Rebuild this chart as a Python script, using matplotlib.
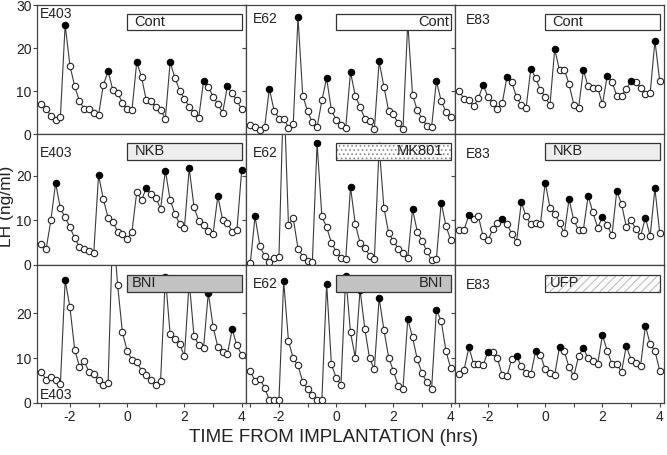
import numpy as np
import matplotlib
matplotlib.use("Agg")
import matplotlib.pyplot as plt
from matplotlib.patches import Rectangle
from matplotlib.transforms import blended_transform_factory

plt.rcParams["font.family"] = ["Liberation Sans", "DejaVu Sans"]
plt.rcParams["hatch.linewidth"] = 0.7

# 10-min blood samples, -3 h to +4 h around implantation
TIME = np.arange(43) / 6.0 - 3.0

# LH (ng/ml). Peaks (filled dots) given as sample indices.
E403_CONT = [7.0, 5.9, 4.2, 3.3, 4.0, 25.4, 15.9, 11.1, 7.6, 5.9, 5.9, 4.8, 4.4, 11.4, 14.6,
             10.2, 9.5, 7.3, 5.7, 5.5, 16.7, 13.3, 7.8, 7.6, 6.3, 5.5, 3.6, 16.7, 13.1, 10.1,
             8.2, 6.3, 4.9, 3.8, 12.3, 11.0, 8.7, 7.0, 4.9, 11.1, 9.5, 7.8, 5.7]
E403_CONT_PK = [5, 14, 20, 27, 34, 39]

E62_CONT = [2.1, 1.7, 1.0, 1.6, 10.5, 5.4, 3.6, 3.6, 1.5, 2.3, 27.1, 8.9, 5.3, 2.7, 1.6,
            7.8, 13.0, 5.5, 3.3, 2.1, 1.5, 14.4, 8.9, 6.3, 3.6, 3.1, 1.1, 16.9, 11.0, 5.4,
            4.6, 2.5, 1.1, 26.0, 9.1, 5.5, 3.5, 1.9, 1.7, 12.3, 7.7, 5.2, 3.9]
E62_CONT_PK = [4, 10, 16, 21, 27, 33, 39]

E83_CONT = [9.9, 8.2, 8.0, 6.4, 8.3, 11.4, 8.7, 7.3, 5.9, 7.2, 13.3, 12.0, 8.6, 6.7, 6.1,
            15.2, 13.0, 10.2, 8.6, 6.7, 19.8, 14.8, 15.0, 11.6, 6.8, 6.1, 14.8, 11.1, 10.7,
            10.8, 6.9, 13.5, 12.1, 8.9, 8.9, 10.5, 12.3, 12.0, 10.8, 9.3, 9.5, 21.7, 12.3]
E83_CONT_PK = [5, 10, 15, 20, 26, 31, 36, 41]

E403_NKB = [4.7, 3.5, 10.0, 18.4, 12.7, 10.7, 8.5, 6.0, 4.1, 3.7, 3.1, 2.8, 20.2, 14.8, 10.6,
            9.7, 7.5, 6.9, 5.8, 7.5, 16.3, 14.6, 17.2, 15.9, 15.1, 12.6, 21.2, 14.6, 11.5,
            9.2, 8.4, 21.7, 13.1, 9.9, 9.0, 7.7, 7.0, 15.5, 10.1, 9.4, 7.5, 7.9, 21.3]
E403_NKB_PK = [3, 12, 22, 26, 31, 37, 42]

E62_MK801 = [0.4, 10.9, 4.3, 2.0, 0.7, 1.5, 1.7, 40.0, 9.0, 10.5, 3.7, 1.9, 1.0, 0.6, 27.3,
             10.9, 8.5, 5.0, 3.0, 1.6, 1.3, 17.5, 9.2, 5.0, 3.9, 2.1, 1.3, 26.7, 12.9, 7.1,
             5.4, 3.7, 2.8, 1.5, 12.5, 7.5, 5.4, 3.1, 1.1, 1.3, 14.0, 8.8, 5.6]
E62_MK801_PK = [1, 7, 14, 21, 27, 34, 40]

E83_NKB = [7.9, 7.9, 11.2, 10.3, 10.9, 6.4, 5.5, 8.0, 9.4, 10.3, 9.2, 7.0, 5.2, 14.1, 10.9,
           9.1, 9.4, 9.1, 18.5, 12.9, 11.5, 9.5, 7.1, 14.8, 10.0, 7.9, 7.9, 15.5, 11.8, 8.4,
           10.7, 8.9, 6.7, 16.6, 13.7, 8.6, 10.1, 8.0, 6.5, 10.6, 6.5, 17.2, 7.1]
E83_NKB_PK = [2, 9, 13, 18, 23, 27, 30, 33, 39, 41]

E403_BNI = [6.9, 5.2, 5.7, 5.1, 4.3, 27.3, 21.3, 11.9, 8.1, 9.3, 6.9, 6.4, 5.2, 4.0, 4.5,
            40.0, 26.2, 15.7, 11.6, 9.6, 9.2, 7.2, 6.2, 5.2, 4.0, 4.9, 28.1, 15.3, 14.3,
            13.1, 10.4, 27.1, 14.9, 12.9, 12.2, 24.5, 17.0, 12.4, 11.3, 10.9, 16.4, 12.8, 10.7]
E403_BNI_PK = [5, 15, 26, 31, 35, 40]

E62_BNI = [7.1, 4.9, 5.4, 3.4, 0.6, 0.6, 0.6, 27.1, 13.8, 9.9, 8.4, 4.6, 3.1, 1.7, 0.7,
           0.7, 26.5, 8.6, 5.6, 4.0, 28.2, 15.7, 10.1, 25.2, 16.5, 9.9, 7.5, 23.4, 16.3,
           10.1, 7.1, 3.8, 3.2, 18.7, 14.6, 9.7, 6.6, 4.6, 3.2, 20.7, 18.3, 11.6, 7.7]
E62_BNI_PK = [7, 16, 20, 23, 27, 33, 39]

E83_UFP = [6.4, 7.3, 12.4, 8.7, 8.7, 8.4, 11.4, 11.4, 9.9, 6.2, 6.0, 9.8, 10.4, 8.2, 6.6,
           6.4, 11.6, 10.7, 7.5, 6.7, 6.3, 12.5, 11.6, 7.9, 6.0, 10.4, 12.3, 9.9, 9.4, 8.7,
           15.1, 11.6, 8.7, 8.7, 6.9, 12.7, 9.6, 8.8, 8.3, 17.2, 13.1, 11.6, 7.2]
E83_UFP_PK = [2, 6, 12, 16, 21, 26, 30, 35, 39]

# (animal, treatment, values, peaks, box style, animal label xy (axes), treatment text x, ha)
PANELS = [
    [("E403", "Cont", E403_CONT, E403_CONT_PK, "plain", (0.012, 0.93), 0.25, "left"),
     ("E62", "Cont", E62_CONT, E62_CONT_PK, "plain", (0.035, 0.89), 3.93, "right"),
     ("E83", "Cont", E83_CONT, E83_CONT_PK, "plain", (0.05, 0.88), 0.25, "left")],
    [("E403", "NKB", E403_NKB, E403_NKB_PK, "light", (0.012, 0.855), 0.25, "left"),
     ("E62", "MK801", E62_MK801, E62_MK801_PK, "dots", (0.035, 0.855), 3.75, "right"),
     ("E83", "NKB", E83_NKB, E83_NKB_PK, "light", (0.05, 0.85), 0.25, "left")],
    [("E403", "BNI", E403_BNI, E403_BNI_PK, "gray", (0.012, 0.06), 0.15, "left"),
     ("E62", "BNI", E62_BNI, E62_BNI_PK, "gray", (0.035, 0.86), 3.75, "right"),
     ("E83", "UFP", E83_UFP, E83_UFP_PK, "hatch", (0.05, 0.855), 0.18, "left")],
]

# layout in pixels of the 667x455 output
W, H = 667, 455
COL_X = [37, 246, 455]
COL_W = 209
ROW_Y = [(5, 134), (134, 265), (265, 403)]
ROW_YMAX = [30, 29.4, 30.7]
FRAME = "#444444"


def draw_box(ax, style):
    tr = blended_transform_factory(ax.transData, ax.transAxes)
    x0, y0, w, h = 0.0, 0.805, 4.0, 0.125
    if style == "dots":
        ax.add_patch(Rectangle((x0, y0), w, h, transform=tr, facecolor="white",
                               edgecolor="#8a8a8a", hatch="....", lw=0, zorder=4))
    elif style == "hatch":
        ax.add_patch(Rectangle((x0, y0), w, h, transform=tr, facecolor="white",
                               edgecolor="#b5b5b5", hatch="////", lw=0, zorder=4))
    else:
        fc = {"plain": "white", "light": "#eeeeee", "gray": "#c2c2c2"}[style]
        ax.add_patch(Rectangle((x0, y0), w, h, transform=tr, facecolor=fc, lw=0, zorder=4))
    ax.add_patch(Rectangle((x0, y0), w, h, transform=tr, fill=False,
                           edgecolor="#333333", lw=0.9, zorder=5))


def main():
    fig = plt.figure(figsize=(W / 100, H / 100), dpi=100)
    for r, row in enumerate(PANELS):
        yt, yb = ROW_Y[r]
        for c, (animal, treat, vals, peaks, style, lab_xy, tx, ha) in enumerate(row):
            ax = fig.add_axes([COL_X[c] / W, 1 - yb / H, COL_W / W, (yb - yt) / H])
            vals = np.asarray(vals)
            pk = np.zeros(len(vals), bool)
            pk[peaks] = True
            ax.plot(TIME, vals, color="#3a3a3a", lw=0.8, zorder=2)
            ax.plot(TIME[~pk], vals[~pk], "o", ms=4.6, mfc="white", mec="#222222",
                    mew=0.8, zorder=3)
            ax.plot(TIME[pk], vals[pk], "o", ms=4.6, mfc="black", mec="black",
                    mew=0.8, zorder=3)

            ax.set_xlim(-3.15, 4.15)
            ax.set_ylim(0, ROW_YMAX[r])
            ax.set_xticks(np.arange(-3, 5))
            if r == 2:
                ax.set_xticklabels(["" if t % 2 else str(t) for t in range(-3, 5)])
            else:
                ax.set_xticklabels([])
            ax.set_yticks([0, 10, 20, 30] if r == 0 else [0, 10, 20])
            if c != 0:
                ax.set_yticklabels([])
            ax.tick_params(direction="out", length=3.2, width=0.8, colors=FRAME,
                           labelcolor="#222222", labelsize=10)
            ax.tick_params(axis="y", pad=0.8)
            ax.tick_params(axis="x", pad=2)
            for sp in ax.spines.values():
                sp.set_color(FRAME)
                sp.set_linewidth(0.9)

            draw_box(ax, style)
            ax.text(tx, 0.867, treat, transform=blended_transform_factory(ax.transData, ax.transAxes),
                    ha=ha, va="center", fontsize=10.5, color="#222222", zorder=6)
            ax.text(lab_xy[0], lab_xy[1], animal, transform=ax.transAxes, ha="left",
                    va="center", fontsize=10, color="#222222", zorder=6)

    fig.text(334 / W, 1 - 437 / H, "TIME FROM IMPLANTATION (hrs)", ha="center", va="center",
             fontsize=13.5, color="#222222")
    fig.text(7 / W, 1 - 206 / H, "LH (ng/ml)", rotation=90, ha="center", va="center",
             fontsize=12.5, color="#222222")
    fig.savefig("out.png", dpi=100)
    plt.close(fig)


if __name__ == "__main__":
    main()
